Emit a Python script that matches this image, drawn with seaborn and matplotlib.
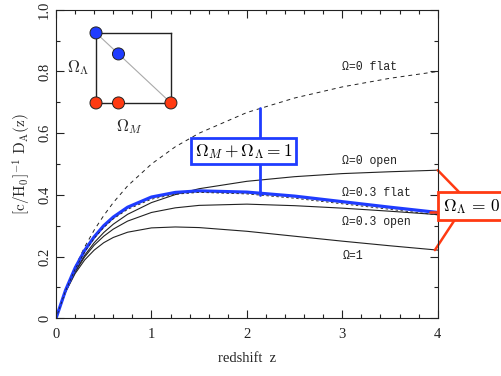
import matplotlib
matplotlib.use("Agg")
import matplotlib.pyplot as plt
import seaborn as sns
import pandas as pd
from matplotlib.ticker import MultipleLocator

# redshift grid and angular diameter distances
z = [0, 0.1, 0.2, 0.3, 0.4, 0.5, 0.6, 0.75, 1.0, 1.25, 1.5, 2.0, 2.5, 3.0, 3.5, 4.0]
da_flat0 = [0, .091, .167, .231, .286, .333, .375, .429, .500, .556, .600, .667, .714, .750, .778, .800]
da_open0 = [0, .087, .153, .204, .245, .278, .305, .337, .375, .401, .420, .444, .459, .469, .475, .480]
da_flat03 = [0, .089, .159, .215, .259, .294, .322, .353, .386, .402, .408, .403, .389, .371, .353, .335]
da_blue = [0, .091, .163, .220, .264, .300, .328, .360, .393, .408, .413, .409, .396, .378, .360, .343]
da_open03 = [0, .086, .150, .199, .237, .266, .289, .315, .343, .358, .366, .370, .365, .357, .347, .336]
da_eds = [0, .085, .145, .189, .221, .245, .262, .279, .293, .296, .294, .282, .266, .250, .235, .221]

curve_labels = ["Ω=0 flat", "Ω=0 open", "Ω=0.3 flat", "Ω=0.3 open", "Ω=1"]
label_y = [0.816, 0.511, 0.405, 0.313, 0.202]

# inset: models in the (Omega_M, Omega_Lambda) plane
inset_om = [0, 0.3, 0, 0.3, 1]
inset_ol = [1, 0.7, 0, 0, 0]
inset_kind = ["flat", "flat", "open", "open", "open"]

BLUE = "#1f3cff"
RED = "#ff3a12"
INK = "#222222"

sns.set_theme(style="ticks")
plt.rcParams["font.family"] = ["Liberation Serif", "DejaVu Serif"]
plt.rcParams["mathtext.fontset"] = "cm"

fig, ax = plt.subplots(figsize=(5.02, 3.76), dpi=100)
fig.subplots_adjust(left=0.1116, right=0.872, bottom=0.1535, top=0.974)

df = pd.DataFrame({"z": z, "flat0": da_flat0, "open0": da_open0, "flat03": da_flat03,
                   "blue": da_blue, "open03": da_open03, "eds": da_eds})

sns.lineplot(data=df, x="z", y="flat0", ax=ax, color=INK, lw=0.7, linestyle=(0, (4, 4)))
for col in ["open0", "open03", "eds"]:
    sns.lineplot(data=df, x="z", y=col, ax=ax, color=INK, lw=0.8)
sns.lineplot(data=df, x="z", y="blue", ax=ax, color=BLUE, lw=2.3)
sns.lineplot(data=df, x="z", y="flat03", ax=ax, color=INK, lw=0.6, linestyle=(0, (3, 3)))

for txt, yy in zip(curve_labels, label_y):
    ax.text(3.0, yy, txt, fontsize=8.3, ha="left", va="center", color=INK,
            family=["Liberation Mono", "DejaVu Sans Mono"])

ax.set_xlim(0, 4)
ax.set_ylim(0, 1)
ax.xaxis.set_major_locator(MultipleLocator(1))
ax.xaxis.set_minor_locator(MultipleLocator(0.2))
ax.yaxis.set_major_locator(MultipleLocator(0.2))
ax.yaxis.set_minor_locator(MultipleLocator(0.1))
ax.yaxis.set_major_formatter(plt.FuncFormatter(lambda v, p: "0" if v == 0 else ("1" if v == 1 else f"{v:.1f}")))
ax.tick_params(which="both", direction="in", top=True, right=True, width=0.8, colors=INK, labelsize=10.5)
ax.tick_params(which="major", length=6)
ax.tick_params(which="minor", length=3)
ax.tick_params(axis="x", pad=7)
for lab in ax.get_yticklabels():
    lab.set_rotation(90)
    lab.set_va("center")
for s in ax.spines.values():
    s.set_linewidth(0.8)
    s.set_color(INK)

ax.set_xlabel("redshift  z", fontsize=10.5, labelpad=8)
ax.set_ylabel(r"$[\mathrm{c/H_0}]^{-1}\ \mathrm{D_A(z)}$", fontsize=11, labelpad=4)

# blue box: flat models
ax.plot([2.136, 2.136], [0.681, 0.585], color=BLUE, lw=2)
ax.plot([2.136, 2.136], [0.497, 0.401], color=BLUE, lw=2)
ax.text(1.963, 0.541, r"$\Omega_M+\Omega_\Lambda=1$", fontsize=12.5, ha="center", va="center",
        color="black", bbox=dict(boxstyle="square,pad=0.2", fc="white", ec=BLUE, lw=2))

# red box: open models, sits outside the axes
ax.plot([4.0, 4.23], [da_open0[-1], 0.407], color=RED, lw=1.8, clip_on=False)
ax.plot([3.92, 4.014], [da_blue[-1], da_blue[-1]], color=RED, lw=1.8, clip_on=False)
ax.plot([3.97, 4.178], [da_eds[-1], 0.319], color=RED, lw=1.8, clip_on=False)
ax.text(4.05, 0.363, r"$\Omega_\Lambda\,=\,0$", fontsize=12.5, ha="left", va="center",
        color="black", clip_on=False,
        bbox=dict(boxstyle="square,pad=0.25", fc="white", ec=RED, lw=2))

# inset square in the (Omega_M, Omega_Lambda) plane
ins = ax.inset_axes([0.419, 0.698, 0.785, 0.227], transform=ax.transData)
ins.set_xlim(0, 1)
ins.set_ylim(0, 1)
ins.patch.set_alpha(0)
ins.set_xticks([])
ins.set_yticks([])
for s in ins.spines.values():
    s.set_linewidth(1)
    s.set_color(INK)
ins.plot([0, 1], [1, 0], color="#aaaaaa", lw=0.8)
idf = pd.DataFrame({"om": inset_om, "ol": inset_ol, "kind": inset_kind})
sns.scatterplot(data=idf, x="om", y="ol", hue="kind", palette={"flat": BLUE, "open": RED},
                s=75, edgecolor=INK, linewidth=0.7, ax=ins, legend=False, clip_on=False, zorder=5)
ins.set_xlabel("")
ins.set_ylabel("")
ins.text(-0.24, 0.5, r"$\Omega_\Lambda$", fontsize=12, ha="center", va="center", transform=ins.transAxes)
ins.text(0.45, -0.34, r"$\Omega_M$", fontsize=12, ha="center", va="center", transform=ins.transAxes)

fig.savefig("out.png", dpi=100)
